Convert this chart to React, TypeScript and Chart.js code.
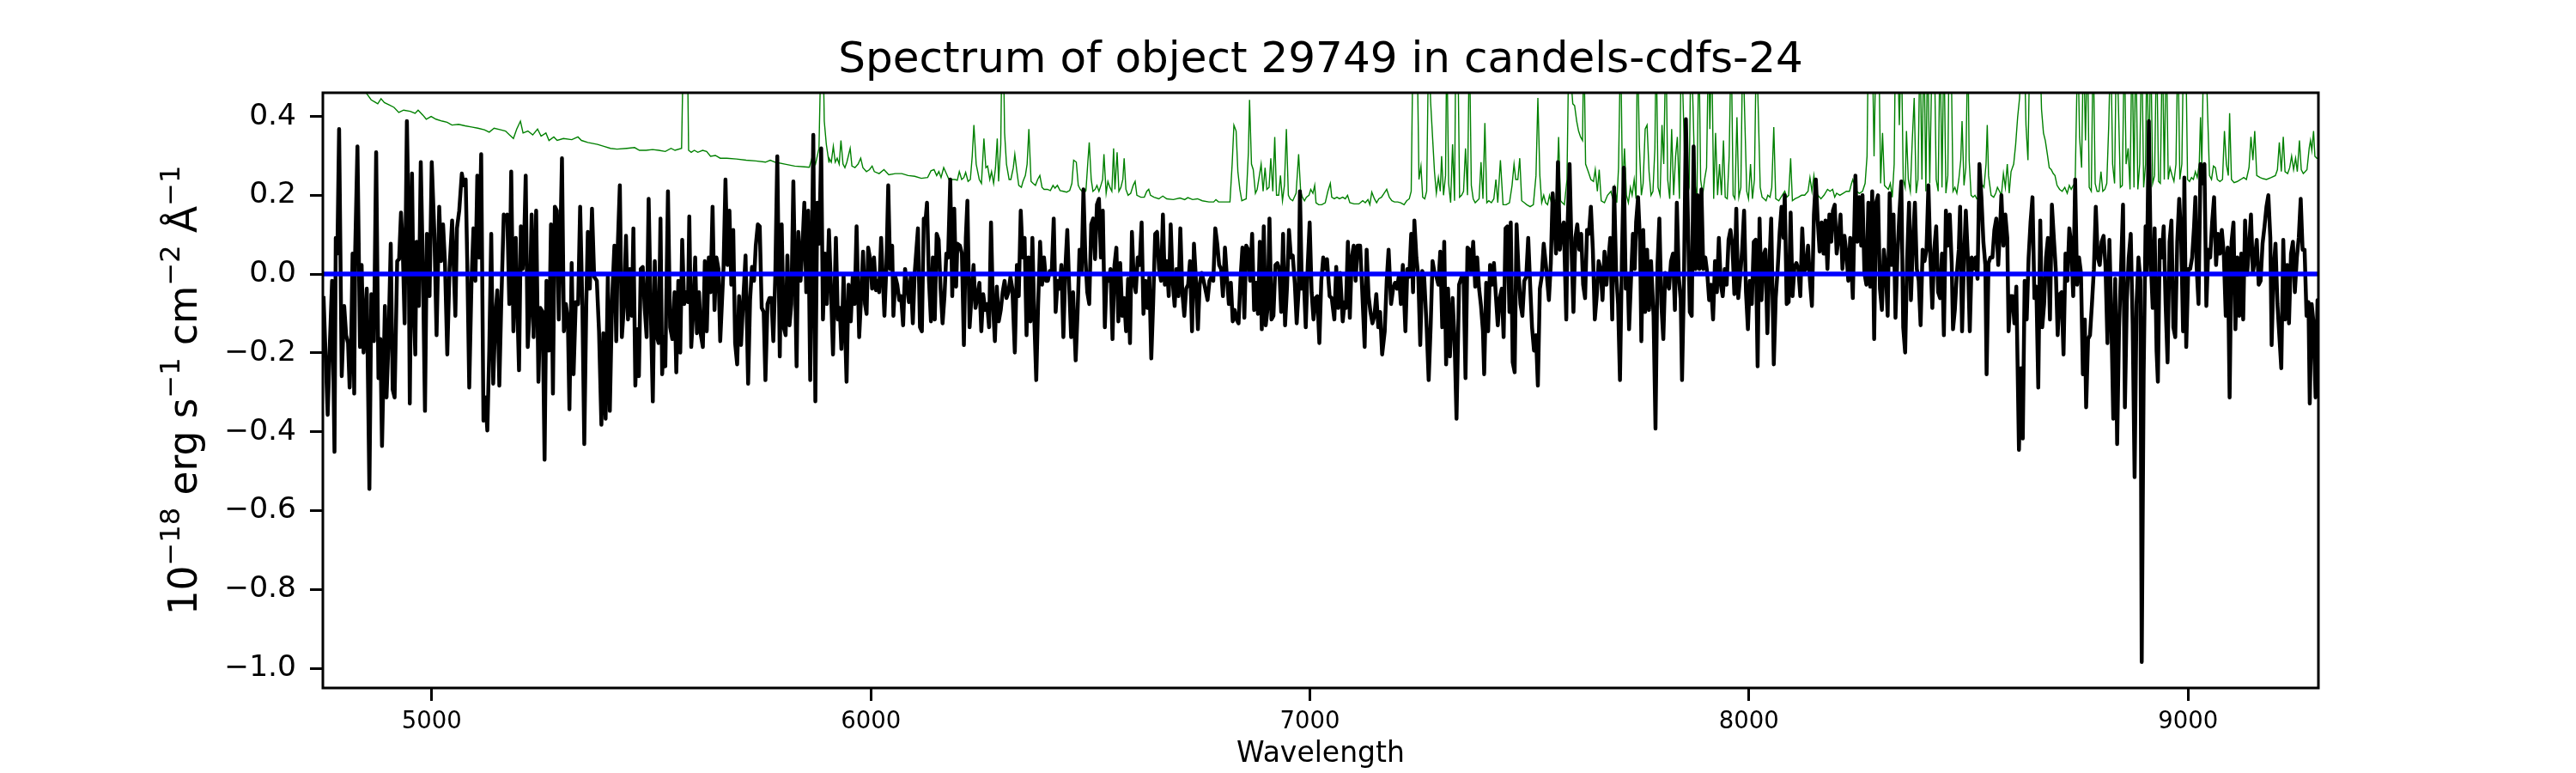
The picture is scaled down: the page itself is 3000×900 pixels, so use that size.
import { useEffect, useRef } from 'react';
import { Chart, registerables } from 'chart.js';

Chart.register(...registerables);

const TITLE = 'Spectrum of object 29749 in candels-cdfs-24';
const X_LABEL = 'Wavelength';
const Y_LABEL: [string, boolean][] = [
  ['10', false], ['\u221218', true], [' erg s', false], ['\u22121', true],
  [' cm', false], ['\u22122', true], [' \u00C5', false], ['\u22121', true],
];
const X_MIN = 4752;
const X_MAX = 9297;
const Y_MIN = -1.05;
const Y_MAX = 0.46;
const X_TICKS = [5000, 6000, 7000, 8000, 9000];
const Y_TICKS = [-1.0, -0.8, -0.6, -0.4, -0.2, 0.0, 0.2, 0.4];

// zero reference line
const ZERO_LINE: [number, number][] = [[4752, 0], [9297, 0]];

// science spectrum (wavelength, flux)
const SCI_A: [number, number][] = [
  [4753.5,-0.056],[4763,-0.357],[4768,-0.175],[4773,-0.017],[4778.5,-0.451],[4781.4,0.092],[4785,0.052],[4789,0.368],
  [4795,-0.259],[4800.6,-0.081],[4805,-0.155],[4809.4,-0.175],[4813,-0.288],[4816.8,-0.155],[4819.7,0.052],[4823.4,-0.303],
  [4825.6,0.057],[4830.8,0.324],[4836.6,-0.185],[4840.3,0.023],[4844.7,-0.199],[4852,-0.037],[4858,-0.545],[4862.4,-0.051],
  [4868.3,-0.170],[4873.4,0.309],[4878.6,-0.264],[4883,-0.165],[4886.7,-0.436],[4893.3,-0.081],[4897,-0.313],[4901.4,-0.175],
  [4906.6,0.077],[4911,-0.293],[4915.4,-0.313],[4921.3,0.033],[4925.7,0.038],[4930,0.156],[4933.8,0.072],[4938.2,-0.125],
  [4943.4,0.388],[4947,0.151],[4950,-0.328],[4955,0.255],[4958.8,-0.076],[4962.5,-0.204],[4965.4,0.082],[4970.6,-0.081],
  [4975,0.284],[4980,0.003],[4984.6,-0.347],[4989,0.102],[4995,-0.056],[5000,0.284],[5006,0.102],[5011,-0.155],
  [5017,0.171],[5021.4,0.033],[5025.8,0.126],[5030,0.033],[5035.4,-0.204],[5040.5,0.013],[5046.4,0.136],[5053.8,-0.106],
  [5057.4,0.116],[5062.6,0.161],[5068.5,0.255],[5073,0.225],[5077.3,0.240],[5081,0.023],[5085.4,-0.288],[5090.6,-0.017],
  [5095,0.116],[5099.4,-0.017],[5103.8,0.250],[5108.2,0.042],[5112.6,0.304],[5117.8,-0.372],[5122.2,-0.313],[5126.6,-0.397],
  [5131,-0.194],[5135.5,0.102],[5140,-0.278],[5145,-0.106],[5149.4,-0.041],[5153.9,-0.283],[5158.3,-0.076],[5164,0.151],
  [5168.6,0.141],[5172,0.151],[5176.7,-0.076],[5181,0.260],[5186,-0.145],[5191.4,0.092],[5195,-0.086],[5198.8,-0.244],
  [5203,0.121],[5207,0.013],[5210,0.062],[5214,0.250],[5218.6,-0.185],[5223,-0.096],[5227.5,0.151],[5232,-0.160],
  [5237.8,0.161],[5243,-0.273],[5247.3,-0.086],[5252.5,-0.096],[5257,-0.471],[5261.3,-0.017],[5267,-0.194],[5271.6,0.126],
  [5276,-0.303],[5280.4,0.171],[5285,0.161],[5289.3,-0.115],[5296.6,0.294],[5301,-0.145],[5305.5,-0.076],[5310,-0.115],
  [5313.6,-0.343],[5318.7,0.028],[5323,-0.254],[5328,-0.071],[5333.4,-0.076],[5338,0.171],[5343,-0.076],[5347.4,-0.431],
  [5352,-0.076],[5355.5,0.107],[5360,-0.037],[5365,0.166],[5370,-0.007],[5376,-0.017],[5381,-0.145],[5386.4,-0.382],
  [5390.8,-0.150],[5396,-0.367],[5401,-0.007],[5405.6,-0.347],[5410.7,-0.066],[5416,0.072],[5420.3,-0.170],[5424,0.082],
  [5428.4,0.225],[5433,-0.160],[5438,-0.076],[5442.4,0.097],[5447,-0.115],[5451,0.013],[5455.6,-0.106],[5459.3,0.116],
  [5463.7,-0.283],[5468,-0.140],[5471.8,-0.259],[5476,0.013],[5480.6,0.018],[5485,-0.086],[5489.5,-0.160],[5494,0.191],
  [5499,-0.096],[5503.5,-0.323],[5508,0.033],[5512,-0.155],[5516.7,-0.175],[5521,0.141],[5524.8,-0.254],[5528.5,-0.160],
  [5532,-0.234],[5538,0.210],[5543,-0.135],[5548,-0.165],[5553,-0.046],[5557,-0.249],[5561.6,-0.017],[5566,-0.199],
  [5570.4,0.087],[5575,-0.076],[5579,-0.046],[5583.7,-0.071],[5586.6,0.146],[5591,-0.185],[5595.5,-0.096],[5600,0.042],
  [5604,-0.150],[5608.7,-0.046],[5613,-0.155],[5617.5,-0.185],[5622,0.033],[5626.4,-0.145],[5631,0.042],[5635,-0.046],
  [5639.6,0.171],[5644,-0.091],[5648.4,0.042],[5653,0.013],[5657,-0.170],[5664.6,0.018],[5669,0.240],[5673.5,0.023],
  [5678,0.161],[5682.3,-0.027],[5686.7,0.112],[5691,-0.175],[5695.6,-0.229],[5700,-0.056],[5704.4,-0.180],[5709,-0.076],
  [5714.7,0.047],[5720.6,-0.278],[5725,-0.066],[5729.4,0.018],[5734,-0.017],[5738,0.072],[5742.7,0.126],[5747,0.121],
  [5751.5,-0.086],[5756,-0.096],[5760,-0.269],[5764.7,-0.076],[5769,-0.061],[5773.6,-0.061],[5778,-0.170],[5782.4,-0.007],
  [5787,0.299],[5792.7,-0.209],[5797,0.126],[5801.5,-0.135],[5806,-0.155],[5810,0.047],[5814.8,-0.130],[5819,-0.076],
  [5823.6,0.235],[5831,-0.234],[5835,0.107],[5840,-0.017],[5844,0.062],[5848.6,0.181],[5853,-0.046],[5857.5,0.161],
  [5862,-0.269],[5866,0.072],[5869,0.353],[5873.7,-0.323],[5878,0.181],[5882.5,0.077],[5887,0.319],[5891,-0.115],
  [5895.7,0.052],[5900,-0.076],[5904.6,0.112],
];

const SCI_B: [number, number][] = [
  [5908.7,-0.017],[5913.9,-0.204],[5920.5,0.092],[5925,-0.115],[5929.3,-0.086],[5933,-0.190],[5938,-0.002],[5944.8,-0.273],
  [5949.2,-0.027],[5954.4,-0.120],[5958.8,-0.007],[5963.2,-0.076],[5967.6,0.121],[5973.5,-0.160],[5978,-0.056],[5982.3,0.057],
  [5986.7,-0.076],[5990.4,-0.101],[5994,0.067],[5998.5,0.038],[6003,-0.037],[6007.3,0.042],[6011.8,-0.041],[6016,-0.017],
  [6019,-0.046],[6023.5,0.092],[6031,-0.106],[6035.3,0.013],[6039.7,0.225],[6044,0.013],[6048.6,0.072],[6051.5,-0.106],
  [6056,-0.007],[6060.3,-0.027],[6064.8,-0.066],[6069,-0.056],[6073.6,-0.130],[6078,0.013],[6082.4,-0.027],[6086.8,-0.071],
  [6091,-0.007],[6095.7,-0.125],[6100,0.003],[6107.4,0.116],[6112,-0.135],[6116.3,-0.145],[6120.7,0.141],[6125,0.141],
  [6128,0.181],[6132.5,-0.017],[6137,-0.120],[6141.3,0.042],[6145.7,-0.115],[6150,0.102],[6154.5,0.087],[6159,-0.037],
  [6163.4,-0.125],[6167.8,-0.056],[6172,0.052],[6176,0.042],[6181,0.240],[6185.5,-0.056],[6190,0.166],[6194.3,-0.032],
  [6197.2,0.077],[6203,0.072],[6207.5,0.052],[6212,-0.180],[6216.4,0.092],[6220,0.186],[6225,-0.135],[6229.6,-0.051],
  [6234,0.023],[6238.4,-0.086],[6243,-0.056],[6247.3,-0.022],[6251.7,-0.145],[6256,-0.051],[6260.5,-0.091],[6265,-0.076],
  [6269.4,-0.135],[6273.8,0.131],[6278,-0.071],[6282.6,-0.170],[6287,-0.032],[6291.4,-0.120],[6296,-0.091],[6300.3,-0.046],
  [6304.7,-0.017],[6309,-0.061],[6313.5,-0.046],[6318,-0.007],[6322.4,-0.037],[6328,-0.199],[6332.7,0.023],[6337,-0.056],
  [6341.5,0.161],[6346,0.042],[6350.3,0.092],[6354.7,-0.155],[6359,0.042],[6363.6,-0.120],[6368,0.092],[6372.4,-0.115],
  [6376.8,-0.269],[6381,-0.081],[6385.6,0.082],[6390,-0.027],[6394.5,0.042],[6399,-0.017],[6403.3,-0.017],[6407.7,0.008],
  [6412,0.003],[6416.6,0.141],[6421,-0.096],[6425.4,-0.017],[6430,-0.037],[6434,0.023],[6438.6,-0.160],[6443,0.013],
  [6447.5,0.112],[6452,-0.037],[6456.3,-0.160],[6460.7,-0.046],[6466.6,-0.219],[6471,-0.096],[6475.4,0.062],[6480,0.003],
  [6484.3,0.215],[6488.7,0.042],[6493,-0.046],[6497.5,-0.076],[6502,0.126],[6506.4,0.141],[6510.8,0.038],[6515,0.176],
  [6519.6,0.191],[6524,0.042],[6528.4,0.161],[6533,-0.135],[6537,-0.007],[6541.7,-0.017],[6546,0.013],[6550.5,-0.165],
  [6555,0.023],[6559.3,0.067],[6563.8,-0.120],[6568,0.028],[6572.6,-0.106],[6577,-0.061],[6581.4,-0.145],[6586,-0.012],
  [6590.3,-0.175],[6594.7,0.107],[6599,-0.017],[6603.5,-0.046],[6608,0.042],[6612.3,0.023],[6616.8,0.131],[6621,-0.101],
  [6625.6,-0.017],[6630,-0.086],[6634.4,-0.007],[6638.8,-0.214],[6643,-0.076],[6647.7,0.102],[6652,0.107],[6656.5,0.013],
  [6661,-0.017],[6665.3,0.151],[6669.7,-0.027],[6674,0.033],[6678.6,-0.056],[6683,0.126],[6687.4,-0.017],[6692,-0.081],
  [6696,0.013],[6700.7,-0.056],[6705,0.116],[6709.5,-0.046],[6714,-0.106],[6718.3,-0.037],[6722.7,-0.027],[6727,0.033],
  [6731.6,-0.145],[6736,0.077],[6740.4,-0.012],[6745,-0.140],[6749,-0.027],[6753.6,0.003],[6758,-0.017],[6762.5,-0.041],
  [6767,-0.066],[6771.3,-0.017],[6775.7,-0.007],[6780,-0.017],[6784.6,0.116],[6789,0.077],[6793.4,0.023],[6797.8,0.013],
  [6802,-0.056],[6806.6,0.067],[6811,-0.007],[6815.5,-0.076],[6820,-0.022],[6824.3,-0.120],[6828.7,-0.091],[6833,-0.115],
  [6837.6,-0.125],[6842,-0.012],[6846.4,0.067],[6850.8,-0.111],[6855,0.072],[6859.6,0.062],[6864,-0.017],[6868.5,0.102],
  [6873,-0.091],[6877.3,-0.022],[6881.7,-0.101],[6886,0.082],[6890.5,-0.140],[6895,0.121],[6899.4,-0.130],[6903.8,-0.086],
  [6908,0.141],[6912.6,-0.115],[6917,-0.106],[6921.5,0.023],[6926,0.028],[6930.3,0.013],[6934.7,-0.096],[6939,0.102],
  [6943.5,-0.130],[6948,-0.032],[6952.4,0.112],[6956.8,0.042],[6961,0.047],[6965.6,-0.022],[6970,-0.125],[6974.4,-0.041],
  [6977.4,0.210],[6981.8,-0.037],[6986,-0.007],[6990.6,-0.135],[6995,0.018],[6999.5,0.131],[7004,-0.046],[7008.3,-0.115],
  [7012.7,-0.061],[7017,-0.056],[7021.6,-0.175],[7026,-0.017],[7030.4,0.042],[7035,0.013],[7039,0.038],[7045,-0.056],
];

const SCI_C: [number, number][] = [
  [7049.8,-0.061],[7055.7,-0.115],[7060,0.018],[7064.5,-0.086],[7069,0.003],[7074.8,-0.120],[7079.2,-0.071],[7082,-0.086],
  [7086.6,0.082],[7091,-0.111],[7095.4,0.042],[7099.8,0.072],[7104.2,-0.017],[7108.7,0.072],[7114.5,0.072],[7119,-0.037],
  [7124.8,-0.185],[7129.3,0.062],[7133.7,-0.056],[7138,-0.096],[7142.5,-0.125],[7147,-0.106],[7151.3,-0.051],[7155.8,-0.135],
  [7160,-0.096],[7164.6,-0.204],[7170.5,-0.145],[7175,-0.017],[7179.3,0.062],[7185,-0.076],[7189.6,-0.037],[7194,-0.022],
  [7198.4,-0.037],[7203,-0.002],[7207.3,-0.076],[7211.7,0.023],[7217.6,-0.145],[7222,0.013],[7226.4,-0.007],[7230.8,0.102],
  [7235,-0.046],[7238,0.136],[7242.6,0.042],[7247,-0.007],[7251.4,-0.180],[7255.9,0.008],[7260.3,-0.007],[7266,-0.135],
  [7270.6,-0.269],[7275,-0.135],[7279.4,0.033],[7283.8,0.003],[7288.2,-0.007],[7292.7,-0.027],[7297,0.057],[7301.5,-0.135],
  [7306,0.082],[7310.3,-0.229],[7314.7,-0.037],[7319,-0.209],[7325,-0.061],[7329.5,-0.165],[7334,-0.367],[7339.8,-0.027],
  [7345.6,-0.007],[7350,-0.007],[7354.5,-0.264],[7359,0.067],[7363.3,0.062],[7367.7,0.003],[7372,0.082],[7376.6,-0.032],
  [7381,0.042],[7385.4,-0.037],[7389.8,-0.081],[7394.2,-0.145],[7397,-0.254],[7401.6,-0.022],[7406,-0.145],[7410.4,0.023],
  [7414.8,-0.027],[7419.2,0.028],[7423.7,-0.056],[7428,-0.130],[7432.5,-0.061],[7437,-0.037],[7441.3,-0.160],[7445.7,0.116],
  [7450,0.121],[7454.6,-0.096],[7457.5,0.131],[7462,-0.224],[7466.4,-0.249],[7470.8,0.126],[7475,0.013],[7479.6,-0.076],
  [7484,-0.106],[7488.4,-0.017],[7492.8,-0.007],[7497.3,0.092],[7501.7,-0.027],[7506,-0.135],[7510.5,-0.194],[7515,-0.155],
  [7519.3,-0.283],[7523.8,-0.037],[7528,-0.007],[7532.6,0.077],[7538.5,0.013],[7544.4,-0.066],[7548.8,0.028],[7553,0.205],
  [7557.6,0.121],[7560.6,0.052],[7565,0.284],[7569.4,0.062],[7573.8,0.116],[7578.2,0.131],[7584,-0.115],[7587,0.126],
  [7591.5,0.279],[7596,0.062],[7600.3,-0.096],[7604.7,0.092],[7609,0.126],[7613.6,0.062],[7618,0.102],[7622.4,-0.027],
  [7626.8,-0.061],[7631.2,0.112],[7635.6,0.102],[7640,0.171],[7644.5,0.062],[7649,-0.115],[7653.3,-0.056],[7657.7,0.033],
  [7662,0.013],[7666.5,-0.066],[7671,0.057],[7675.4,-0.027],[7679.8,0.033],[7684.2,0.092],[7688.6,-0.115],[7693,0.220],
  [7697.5,0.003],[7702,-0.076],[7706.3,-0.269],[7710.7,0.042],[7715,0.270],[7719.5,-0.037],[7724,-0.007],[7727,-0.140],
  [7731.3,-0.017],[7735.7,0.102],[7740,0.013],[7743,0.131],[7747.5,0.195],[7752,0.082],[7755,-0.170],[7759.3,0.112],
  [7763.7,-0.096],[7768,0.062],[7772.5,-0.091],[7777,0.033],[7782.8,-0.106],[7787.2,-0.392],[7791.7,0.023],[7796,0.141],
  [7800.5,-0.076],[7805,-0.165],[7809.3,0.003],[7813.7,-0.017],[7818,-0.037],[7822.6,0.033],[7827,0.052],[7831.4,-0.091],
  [7835.8,0.181],[7840.2,-0.007],[7844.7,-0.066],[7847.6,-0.269],[7852,-0.017],[7856.4,0.393],[7860.8,0.151],[7865.3,-0.096],
  [7869.7,-0.106],[7874,0.324],[7878.5,0.013],[7883,0.200],[7887.3,0.013],[7891.8,0.215],[7896,0.013],[7900.6,0.042],
  [7905,0.003],[7909.4,-0.066],[7913.8,-0.027],[7918.3,-0.115],[7922.7,0.033],[7927,-0.046],[7931.5,0.092],[7936,-0.027],
  [7940.3,-0.056],[7944.8,0.013],[7949.2,-0.027],[7953.6,0.087],[7958,0.112],[7962.4,0.072],[7966.8,-0.051],[7971.2,0.166],
  [7975.7,-0.061],[7980,-0.007],[7984.5,0.062],[7989,0.161],[7993.3,-0.046],[7997.7,-0.140],[8002,-0.017],[8006.6,-0.076],
  [8011,0.082],[8015.4,0.087],[8019.8,-0.234],[8024.2,0.141],[8028.7,-0.066],[8033,0.047],[8037.5,0.062],[8042,-0.150],
  [8046.3,0.018],[8050.7,0.141],[8056.6,-0.229],[8061,-0.061],[8065.5,0.013],[8070,0.107],[8074.3,0.171],[8078.7,0.092],
  [8081.6,0.200],[8086,-0.076],[8090.5,-0.071],[8095,0.156],[8099.3,-0.056],[8103.7,0.018],[8108,0.028],[8112.6,0.013],
  [8117,-0.056],[8121.4,0.116],[8125.8,0.008],[8130.2,0.013],[8134.6,0.072],[8139,-0.017],[8143.5,-0.081],[8148,0.151],
  [8152.3,0.240],[8156.7,0.136],[8161,0.057],[8165.6,0.131],[8170,0.052],[8174.4,0.136],[8178.8,0.013],[8183.2,0.151],
  [8187.6,0.082],[8191.3,0.161],
];

const SCI_D: [number, number][] = [
  [8195.4,0.176],[8199.8,0.052],[8204.2,0.092],[8208.6,0.151],[8213,0.013],[8217.5,0.097],[8222,0.052],[8226.3,-0.017],
  [8230.7,0.092],[8236.6,-0.061],[8242.5,0.250],[8247,0.082],[8251.3,0.195],[8255.7,0.072],[8258.7,0.200],[8263,0.003],
  [8267.5,-0.027],[8272,0.181],[8276.3,-0.032],[8280.8,0.210],[8285.2,-0.165],[8289.6,0.181],[8294,0.200],[8298.4,-0.037],
  [8302.8,-0.091],[8307.3,0.062],[8311.7,0.013],[8316,-0.106],[8320.5,0.205],[8325,0.023],[8329.3,0.151],[8333.8,-0.111],
  [8338,0.042],[8342.6,0.151],[8347,0.235],[8351.4,-0.135],[8355.8,-0.199],[8360.2,0.033],[8364.7,0.181],[8369,-0.066],
  [8373.5,0.082],[8378,0.181],[8382.3,0.013],[8386.7,-0.017],[8391,-0.130],[8395.6,0.062],[8400,0.033],[8404.4,0.062],
  [8408.8,0.225],[8413.2,0.042],[8417.7,-0.086],[8422,0.062],[8426.5,0.121],[8431,-0.046],[8435.3,-0.061],[8439.7,0.052],
  [8444,-0.155],[8448.6,0.161],[8453,0.072],[8457.4,0.151],[8461.8,0.028],[8464.8,-0.140],[8469,-0.091],[8473.6,0.003],
  [8478,0.062],[8481,0.171],[8485.4,-0.145],[8489.8,0.038],[8494,0.161],[8498.6,0.042],[8503,-0.145],[8507.4,0.042],
  [8511.9,0.013],[8516.3,0.042],[8520.7,-0.012],[8525,0.279],[8529.5,0.195],[8534,0.082],[8538.4,0.023],[8541.3,-0.254],
  [8545.7,0.028],[8550,0.042],[8554.6,0.042],[8559,0.112],[8563.4,0.141],[8567.8,0.023],[8572.2,0.121],[8575,0.200],
  [8579.6,0.072],[8584,0.151],[8588.4,0.092],[8591.4,-0.145],[8595.8,-0.056],[8600.2,-0.056],[8604.6,-0.125],[8609,-0.032],
  [8615,-0.446],[8619.3,-0.239],[8623.7,-0.417],[8628,-0.017],[8632.6,-0.115],[8637,0.042],[8641.4,0.131],[8645.8,0.195],
  [8650.2,-0.061],[8654.6,-0.032],[8659,-0.288],[8663.5,0.136],[8668,-0.135],[8672.3,-0.076],[8676.7,0.042],[8681,0.092],
  [8685.6,-0.115],[8690,0.176],[8694.4,0.092],[8698.8,0.013],[8703.2,-0.155],[8707.6,-0.051],[8712,-0.046],[8716.5,-0.204],
  [8721,0.052],[8725.3,-0.017],[8729.7,0.116],[8734,0.077],[8738.6,-0.056],[8743,0.240],[8747.4,-0.027],[8751.8,0.042],
  [8756.2,0.003],[8760.6,-0.254],[8765,-0.115],[8768,-0.338],[8772.4,-0.165],[8776.8,-0.155],[8781.2,-0.076],[8785.7,0.013],
  [8790,0.171],[8794.5,0.042],[8799,0.023],[8803.3,0.082],[8807.7,0.097],[8812,0.023],[8816.6,-0.175],[8821,0.087],
  [8825.4,-0.115],[8829.8,-0.367],[8834.2,-0.012],[8838.6,-0.431],[8843,-0.135],[8847.5,0.013],[8852,0.176],[8856.3,-0.338],
  [8860.7,-0.066],[8865,0.042],[8869.6,0.102],[8874,-0.130],[8878.4,-0.515],[8882.8,-0.076],[8887.2,0.042],[8891.6,-0.017],
  [8894.6,-0.984],[8899,-0.254],[8903.4,0.121],[8906.4,-0.002],[8910.8,0.388],[8915.2,0.033],[8919.6,-0.086],[8924,0.116],
  [8928.4,-0.194],[8931.4,-0.273],[8935.8,0.087],[8940.2,0.042],[8944.6,0.121],[8949,-0.076],[8953.5,-0.224],[8958,0.082],
  [8962.3,0.136],[8966.7,-0.135],[8971,-0.160],[8975.5,0.082],[8980,0.191],[8984.4,0.092],[8988.8,-0.145],[8991.7,0.245],
  [8996,-0.185],[9000.6,0.013],[9005,0.013],[9009.4,0.042],[9013.8,0.121],[9016.8,0.195],[9019.7,0.018],[9024,-0.076],
  [9028.5,0.279],[9033,0.230],[9037.4,0.279],[9041.8,-0.081],[9046.2,0.062],[9050.6,0.042],[9055,0.131],[9059.4,0.195],
  [9063.9,0.023],[9068.3,0.102],[9072.7,0.052],[9077,0.112],[9081.5,0.052],[9086,-0.106],[9090.4,0.067],[9094.8,-0.313],
  [9099.2,0.082],[9103.6,0.131],[9108,-0.140],[9112.4,0.042],[9116.9,-0.106],[9121.3,0.052],[9125.7,-0.115],[9130,0.136],
  [9134.5,-0.002],[9139,0.067],[9143.4,0.151],[9147.8,0.003],[9152.2,0.038],[9156.6,0.087],[9161,-0.027],[9165.4,-0.017],
  [9169.8,0.077],[9174.3,0.121],[9178.7,0.171],[9183,0.200],[9187.5,0.092],[9190.5,-0.180],[9195,0.013],[9199.3,0.077],
  [9203.7,-0.076],[9208,-0.155],[9212.5,-0.239],[9217,0.087],[9221.4,-0.115],[9225.8,0.023],[9230,-0.125],[9234.6,0.052],
  [9239,0.082],[9243.4,-0.046],[9247.9,0.042],[9252.3,0.092],[9256.7,0.191],[9261,0.062],[9265.5,0.062],[9270,-0.106],
  [9274.4,-0.071],[9277.3,-0.328],[9281.7,-0.076],[9286,-0.125],[9290.6,-0.313],[9295,-0.066],[9297.2,-0.076],
];

// error spectrum (wavelength, flux); peaks above the top are clipped by the axes
const ERR_A: [number, number][] = [
  [4752,0.52],[4800,0.49],[4851,0.459],[4862,0.442],[4870,0.437],[4877,0.432],[4884.5,0.445],[4892,0.435],
  [4903,0.429],[4914,0.423],[4925,0.410],[4936,0.416],[4951,0.413],[4962,0.408],[4969,0.416],[4980,0.403],
  [4987.5,0.393],[4998.6,0.400],[5009.6,0.393],[5024,0.388],[5035,0.385],[5046,0.378],[5061,0.380],[5076,0.376],
  [5090.6,0.373],[5105,0.370],[5120,0.366],[5131,0.360],[5142,0.370],[5157,0.366],[5168,0.363],[5177,0.353],
  [5186,0.344],[5193.6,0.368],[5202,0.388],[5208,0.358],[5219,0.363],[5230,0.353],[5241,0.368],[5249,0.350],
  [5260,0.358],[5267,0.339],[5278,0.348],[5285.6,0.339],[5300,0.344],[5319,0.341],[5333,0.348],[5341,0.339],
  [5355.5,0.334],[5377.6,0.329],[5392,0.324],[5407,0.319],[5422,0.317],[5444,0.319],[5462,0.321],[5473,0.314],
  [5488,0.314],[5503,0.316],[5517,0.314],[5532,0.311],[5545,0.319],[5554,0.314],[5569,0.319],[5573.4,0.6],
  [5578,0.7],[5582,0.6],[5585,0.314],[5591,0.309],[5598,0.314],[5606,0.309],[5617,0.314],[5626,0.311],
  [5635,0.299],[5646,0.301],[5657,0.294],[5672,0.294],[5694,0.292],[5716,0.289],[5738,0.287],[5760,0.284],
  [5771,0.289],[5782,0.284],[5804.5,0.279],[5826.6,0.274],[5848.6,0.272],[5860,0.271],[5867,0.299],[5874,0.279],
  [5882,0.319],[5887,0.6],[5891,0.6],[5894,0.388],[5898.7,0.329],[5904.6,0.284],
];

const ERR_B: [number, number][] = [
  [5905,0.294],[5910,0.284],[5914.6,0.324],[5919,0.284],[5923.4,0.294],[5928,0.279],[5932,0.339],[5936.7,0.279],
  [5941,0.270],[5945.5,0.284],[5953,0.319],[5957,0.274],[5964,0.270],[5971,0.279],[5977,0.294],[5982,0.270],
  [5990,0.260],[5997,0.265],[6003,0.274],[6008,0.260],[6019,0.255],[6030,0.265],[6041,0.252],[6056,0.255],
  [6070.6,0.255],[6085,0.250],[6100,0.248],[6115,0.243],[6129.5,0.245],[6137,0.262],[6144,0.265],[6150,0.250],
  [6155,0.260],[6160,0.245],[6166,0.270],[6172,0.255],[6178,0.240],[6192,0.240],[6197,0.238],[6201.6,0.260],
  [6207,0.240],[6212,0.245],[6216,0.258],[6221.5,0.235],[6226.7,0.240],[6231,0.299],[6234.8,0.378],[6240,0.279],
  [6247,0.240],[6252,0.230],[6257.6,0.344],[6262,0.270],[6266,0.274],[6271,0.240],[6275,0.260],[6279.7,0.230],
  [6284,0.270],[6288,0.344],[6291,0.235],[6296,0.329],[6298.8,0.6],[6301.7,0.6],[6304.7,0.358],[6309,0.279],
  [6315,0.240],[6319,0.240],[6324.6,0.270],[6328,0.304],[6332.7,0.260],[6337,0.225],[6343,0.220],[6346.6,0.235],
  [6352,0.250],[6356,0.279],[6360,0.368],[6365,0.235],[6369.5,0.230],[6375,0.225],[6380,0.240],[6385,0.250],
  [6390,0.220],[6394.5,0.215],[6402,0.215],[6409,0.212],[6415,0.225],[6419.5,0.218],[6425,0.225],[6431,0.212],
  [6438.6,0.210],[6446,0.208],[6453,0.212],[6458,0.230],[6462,0.289],[6468,0.284],[6472.5,0.225],[6477,0.215],
  [6481,0.210],[6486,0.205],[6490,0.212],[6494.6,0.289],[6497.5,0.334],[6502,0.240],[6506,0.210],[6511,0.215],
  [6515,0.225],[6519.6,0.210],[6524,0.225],[6528,0.240],[6531,0.304],[6536,0.205],[6540,0.235],[6544.6,0.220],
  [6549,0.210],[6553,0.319],[6556,0.215],[6561,0.309],[6565,0.210],[6569.6,0.220],[6574,0.240],[6577,0.294],
  [6581,0.215],[6586,0.200],[6592,0.205],[6597.6,0.225],[6602,0.235],[6606,0.200],[6615,0.195],[6623,0.195],
  [6628.5,0.210],[6633,0.215],[6637,0.200],[6645,0.195],[6656,0.191],[6665,0.198],[6674,0.191],[6689,0.189],
  [6704,0.193],[6715,0.189],[6722,0.194],[6733,0.189],[6744,0.191],[6755,0.186],[6770,0.183],[6781,0.183],
  [6786,0.189],[6792,0.183],[6807,0.183],[6818,0.183],[6823,0.279],[6827,0.378],[6832,0.363],[6836,0.260],
  [6840.5,0.215],[6845,0.186],[6851,0.189],[6855,0.191],[6860,0.309],[6862.6,0.442],[6867,0.279],[6871,0.265],
  [6876,0.205],[6880,0.215],[6885,0.250],[6889,0.279],[6893.5,0.210],[6898,0.270],[6902,0.215],[6907,0.220],
  [6911,0.294],[6915.6,0.210],[6920,0.348],[6924,0.200],[6929,0.200],[6933,0.250],[6937.6,0.186],[6942,0.225],
  [6946.5,0.368],[6951,0.200],[6955,0.191],[6961,0.186],[6968.6,0.205],[6974.4,0.304],[6979,0.210],[6983,0.195],
  [6987.7,0.186],[6992,0.195],[6998,0.200],[7002,0.215],[7007,0.205],[7011,0.225],[7014,0.181],[7020,0.176],
  [7027,0.176],[7035,0.181],[7041,0.210],[7046.6,0.230],
];

const ERR_C: [number, number][] = [
  [7049.8,0.195],[7055.7,0.191],[7061.6,0.195],[7067.4,0.191],[7074.8,0.195],[7080.7,0.191],[7085.8,0.200],[7091,0.181],
  [7100.6,0.178],[7111.6,0.178],[7120.4,0.186],[7126.3,0.181],[7132.2,0.189],[7136.6,0.176],[7141,0.208],[7147,0.191],
  [7152,0.181],[7157,0.191],[7163,0.195],[7169,0.205],[7175,0.215],[7181,0.195],[7186.7,0.186],[7192.6,0.183],
  [7200,0.183],[7207,0.181],[7214.6,0.176],[7220.5,0.186],[7226.4,0.191],[7230.8,0.210],[7235,0.6],[7239.7,0.6],
  [7244,0.6],[7248.5,0.240],[7253,0.274],[7257,0.195],[7261.7,0.191],[7266,0.210],[7270.6,0.6],[7275,0.437],
  [7279.4,0.348],[7283.8,0.260],[7288,0.205],[7292.7,0.245],[7297,0.210],[7300,0.299],[7304.4,0.200],[7309,0.250],
  [7311.8,0.6],[7316,0.230],[7320.6,0.181],[7325,0.329],[7329.5,0.186],[7332.4,0.6],[7336.8,0.6],[7341,0.195],
  [7345.6,0.200],[7350,0.210],[7354.5,0.319],[7359,0.200],[7363.3,0.6],[7367.7,0.225],[7372,0.191],[7376.6,0.181],
  [7381,0.186],[7385.4,0.191],[7389.8,0.284],[7394.2,0.191],[7398.6,0.383],[7403,0.181],[7407.5,0.186],[7413.4,0.181],
  [7419,0.191],[7423.7,0.240],[7428,0.181],[7434,0.289],[7440,0.176],[7447,0.176],[7454.6,0.181],[7460.5,0.225],
  [7465,0.279],[7469,0.240],[7473.7,0.240],[7478,0.294],[7482.5,0.186],[7488.4,0.181],[7494,0.176],[7501.7,0.171],
  [7509,0.176],[7515,0.250],[7519.3,0.447],[7523.8,0.250],[7528,0.181],[7532.6,0.200],[7537,0.181],[7541.4,0.176],
  [7545.8,0.200],[7550,0.181],[7556,0.181],[7562,0.191],[7566.5,0.348],[7571,0.186],[7575,0.181],[7579.7,0.176],
  [7585.6,0.240],[7590,0.6],[7594.4,0.5],[7598.8,0.432],[7603,0.427],[7607.7,0.388],[7612,0.363],[7616.5,0.348],
  [7621,0.339],[7623.9,0.6],[7628,0.279],[7634,0.260],[7640,0.240],[7646,0.235],[7650,0.265],[7654.8,0.210],
  [7659,0.265],[7663.6,0.186],[7671,0.181],[7678,0.200],[7685.7,0.210],[7690,0.191],[7694.5,0.220],[7699,0.181],
  [7703,0.270],[7707.8,0.6],[7712,0.210],[7716.6,0.319],[7721,0.200],[7725.4,0.181],[7730,0.220],[7734,0.200],
  [7738.7,0.240],[7743,0.191],[7746,0.6],[7750.4,0.329],[7755,0.200],[7759,0.230],[7763.7,0.368],[7768,0.378],
  [7772.5,0.260],[7777,0.200],[7781.4,0.210],[7785.8,0.319],[7788.7,0.6],[7793,0.220],[7797.6,0.200],[7802,0.378],
  [7806,0.279],[7810.8,0.6],[7815,0.240],[7819.6,0.191],[7824,0.368],[7828.5,0.200],[7833,0.299],[7837,0.348],
  [7841.7,0.191],[7846,0.6],[7850.5,0.418],[7855,0.230],[7859,0.195],[7863.8,0.220],[7868,0.6],[7872.6,0.427],
  [7877,0.230],[7881.5,0.191],[7886,0.6],[7890,0.240],[7894.7,0.200],[7899,0.240],[7903.5,0.270],[7908,0.6],
  [7911,0.368],[7915,0.6],[7919.7,0.191],[7924,0.358],[7928.6,0.200],[7933,0.279],[7937.4,0.200],[7942,0.339],
  [7946,0.195],[7950.6,0.191],[7955,0.299],[7959.5,0.6],[7964,0.200],[7968,0.191],[7972.7,0.398],[7977,0.195],
  [7981.6,0.220],[7986,0.6],[7990,0.418],[7995,0.210],[7999,0.191],[8003.6,0.279],[8008,0.191],[8012.5,0.240],
  [8017,0.6],[8021,0.427],[8025.7,0.220],[8030,0.195],[8034.5,0.191],[8039,0.186],[8043,0.200],[8048,0.195],
  [8052,0.220],[8056.6,0.373],[8061,0.191],[8068,0.186],[8075.8,0.200],[8081.6,0.210],[8086,0.195],[8090.5,0.200],
  [8095,0.294],[8099,0.186],[8105,0.191],[8112.6,0.195],[8120,0.200],[8127,0.200],[8134.6,0.210],[8139,0.245],
  [8143.5,0.210],[8148,0.250],[8152,0.210],[8157,0.200],[8164,0.191],[8171,0.200],[8179,0.215],[8184.7,0.210],
  [8190.6,0.215],
];

const ERR_D: [number, number][] = [
  [8195.4,0.195],[8199.8,0.205],[8207,0.200],[8214.5,0.205],[8222,0.210],[8229,0.210],[8233.7,0.230],[8236.6,0.240],
  [8241,0.225],[8245.4,0.210],[8251.3,0.205],[8258.7,0.210],[8264.6,0.230],[8269,0.299],[8272,0.6],[8276.3,0.6],
  [8280.8,0.6],[8285,0.299],[8289.6,0.6],[8295.5,0.6],[8300,0.230],[8304.3,0.358],[8308.7,0.225],[8313,0.220],
  [8317.6,0.215],[8322,0.230],[8326.4,0.195],[8330.8,0.279],[8333.8,0.6],[8338,0.6],[8342.6,0.378],[8347,0.6],
  [8351.4,0.240],[8355.8,0.220],[8358.8,0.363],[8363,0.240],[8367.6,0.210],[8372,0.339],[8376.4,0.447],[8380.9,0.205],
  [8385,0.240],[8389.7,0.6],[8394,0.240],[8398.5,0.6],[8403,0.210],[8407,0.6],[8411.8,0.230],[8417.7,0.6],
  [8422,0.6],[8426.5,0.240],[8431,0.210],[8435.3,0.6],[8439.7,0.220],[8444,0.6],[8448.6,0.205],[8453,0.250],
  [8456,0.6],[8460,0.6],[8464.8,0.210],[8469,0.220],[8473.6,0.205],[8478,0.240],[8482.4,0.289],[8485.4,0.388],
  [8489.8,0.225],[8494,0.270],[8498.6,0.6],[8501.6,0.289],[8506,0.200],[8510.4,0.195],[8514.8,0.200],[8519,0.191],
  [8525,0.195],[8529.5,0.230],[8535.4,0.220],[8540,0.279],[8542.8,0.378],[8545.7,0.250],[8551.6,0.200],[8557.5,0.195],
  [8562,0.205],[8566,0.220],[8570.7,0.210],[8575,0.200],[8579.6,0.255],[8584,0.220],[8588.4,0.279],[8592.8,0.205],
  [8597,0.260],[8603,0.279],[8607.5,0.329],[8612,0.398],[8616.4,0.447],[8620.8,0.6],[8626.7,0.6],[8631,0.378],
  [8635.5,0.289],[8640,0.6],[8644,0.8],[8648.8,0.8],[8653,0.8],[8657.6,0.7],[8662,0.6],[8666.4,0.418],
  [8670.8,0.358],[8675,0.339],[8679.7,0.304],[8684,0.270],[8688.5,0.265],[8693,0.255],[8697,0.250],[8701.8,0.225],
  [8707.6,0.215],[8713.5,0.210],[8719.4,0.220],[8725,0.205],[8729.7,0.225],[8734,0.215],[8738.6,0.225],[8743,0.230],
  [8749,0.6],[8753,0.348],[8757.7,0.270],[8762,0.6],[8766.5,0.339],[8771,0.6],[8775,0.220],[8779.8,0.210],
  [8784,0.6],[8788.6,0.230],[8793,0.210],[8797.4,0.210],[8801.8,0.260],[8806,0.210],[8810.7,0.215],[8815,0.230],
  [8819.5,0.378],[8824,0.6],[8828.3,0.279],[8832.8,0.230],[8837,0.6],[8841.6,0.427],[8846,0.220],[8850.4,0.225],
  [8855,0.6],[8859,0.279],[8863.7,0.319],[8868,0.215],[8872.5,0.6],[8877,0.220],[8881,0.6],[8885.8,0.215],
  [8890,0.279],[8894.6,0.6],[8899,0.220],[8903.4,0.279],[8906.4,0.6],[8910.8,0.240],[8915,0.6],[8919.6,0.230],
  [8924,0.250],[8928.4,0.6],[8932.9,0.235],[8937,0.230],[8941.7,0.6],[8946,0.240],[8950.5,0.6],[8955,0.240],
  [8959,0.270],[8963.8,0.250],[8968,0.235],[8972.6,0.279],[8977,0.6],[8981.4,0.240],[8986,0.279],[8990,0.6],
  [8994.7,0.6],[8999,0.240],[9003.5,0.235],[9008,0.245],[9012.3,0.240],[9016.8,0.260],[9021,0.245],[9025.6,0.279],
  [9028.5,0.398],[9031.5,0.279],[9036,0.6],[9040,0.6],[9044.7,0.408],[9049,0.250],[9053.6,0.240],[9058,0.274],
  [9062.4,0.270],[9066.8,0.240],[9072.7,0.235],[9078.6,0.240],[9083,0.363],[9087.4,0.279],[9091.8,0.250],[9094.8,0.408],
  [9099,0.240],[9105,0.232],[9112.4,0.235],[9120,0.240],[9127,0.245],[9133,0.240],[9139,0.270],[9143.4,0.348],
  [9147.8,0.289],[9152,0.363],[9156.6,0.250],[9164,0.245],[9171,0.242],[9178.7,0.240],[9189.7,0.245],[9199,0.250],
  [9203.7,0.265],[9208,0.334],[9212.5,0.260],[9217,0.348],[9221,0.260],[9227,0.255],[9231.7,0.270],[9236,0.299],
  [9240.5,0.265],[9245,0.294],[9249,0.260],[9253.8,0.339],[9258,0.265],[9262.6,0.255],[9267,0.260],[9271,0.265],
  [9276,0.319],[9279,0.339],[9282,0.314],[9286,0.363],[9289,0.299],[9293.5,0.294],[9297,0.294],
];

const SCI = [...SCI_A, ...SCI_B, ...SCI_C, ...SCI_D];
const ERR = [...ERR_A, ...ERR_B, ...ERR_C, ...ERR_D];

const FONT = '"DejaVu Sans", "Liberation Sans", sans-serif';

const textPlugin = {
  id: 'mplTexts',
  afterDraw(chart: any) {
    const { ctx, chartArea: a } = chart;
    ctx.save();
    ctx.strokeStyle = '#000';
    ctx.lineWidth = 3;
    ctx.strokeRect(a.left, a.top, a.right - a.left, a.bottom - a.top);

    ctx.fillStyle = '#000';
    ctx.textAlign = 'center';
    ctx.textBaseline = 'alphabetic';
    const cx = (a.left + a.right) / 2;
    ctx.font = `50px ${FONT}`;
    ctx.fillText(TITLE, cx, a.top - 24);
    ctx.font = `33px ${FONT}`;
    ctx.fillText(X_LABEL, cx, a.bottom + 86);

    // rotated y label with superscripts
    const mainSize = 45.5;
    const supSize = 32;
    const widths = Y_LABEL.map(([t, sup]) => {
      ctx.font = `${sup ? supSize : mainSize}px ${FONT}`;
      return ctx.measureText(t).width;
    });
    const total = widths.reduce((s, w) => s + w, 0);
    ctx.translate(a.left - 147, (a.top + a.bottom) / 2);
    ctx.rotate(-Math.PI / 2);
    ctx.textAlign = 'left';
    let x = -total / 2;
    Y_LABEL.forEach(([t, sup], i) => {
      ctx.font = `${sup ? supSize : mainSize}px ${FONT}`;
      ctx.fillText(t, x, sup ? -20 : 0);
      x += widths[i];
    });
    ctx.restore();
  },
};

const fmtY = (v: number | string) => {
  const n = Number(v);
  const s = Math.abs(n).toFixed(1);
  return n < -1e-9 ? '\u2212' + s : s;
};

export default function App() {
  const ref = useRef<HTMLCanvasElement | null>(null);
  useEffect(() => {
    if (!ref.current) return;
    const chart = new Chart(ref.current, {
      type: 'line',
      data: {
        datasets: [
          {
            label: 'zero',
            data: ZERO_LINE.map(([x, y]) => ({ x, y })),
            borderColor: '#0000ff',
            borderWidth: 5.5,
            pointRadius: 0,
            order: 0,
            clip: 0,
          },
          {
            label: 'flux',
            data: SCI.map(([x, y]) => ({ x, y })),
            borderColor: '#000000',
            borderWidth: 4.5,
            pointRadius: 0,
            borderJoinStyle: 'round',
            order: 1,
            clip: 0,
          },
          {
            label: 'error',
            data: ERR.map(([x, y]) => ({ x, y })),
            borderColor: '#008000',
            borderWidth: 1.4,
            pointRadius: 0,
            order: 2,
            clip: 0,
          },
        ] as any,
      },
      options: {
        animation: false,
        responsive: false,
        devicePixelRatio: 1,
        events: [],
        layout: { padding: { left: 256, right: 300, top: 108, bottom: 39 } },
        plugins: {
          legend: { display: false },
          title: { display: false },
          tooltip: { enabled: false },
        },
        scales: {
          x: {
            type: 'linear',
            min: X_MIN,
            max: X_MAX,
            afterFit: (s: any) => { s.height = 60; },
            afterBuildTicks: (s: any) => { s.ticks = X_TICKS.map((v) => ({ value: v })); },
            grid: { drawOnChartArea: false, drawTicks: true, tickLength: 15, tickWidth: 3, tickColor: '#000' },
            border: { display: false },
            ticks: {
              color: '#000',
              font: { family: FONT, size: 27.5 },
              padding: 8,
              maxRotation: 0,
              autoSkip: false,
              callback: (v: any) => String(v),
            },
          },
          y: {
            type: 'linear',
            min: Y_MIN,
            max: Y_MAX,
            afterFit: (s: any) => { s.width = 120; },
            afterBuildTicks: (s: any) => { s.ticks = Y_TICKS.map((v) => ({ value: v })); },
            grid: { drawOnChartArea: false, drawTicks: true, tickLength: 15, tickWidth: 3, tickColor: '#000' },
            border: { display: false },
            ticks: {
              color: '#000',
              font: { family: FONT, size: 34.5 },
              padding: 16,
              autoSkip: false,
              callback: fmtY,
            },
          },
        },
      },
      plugins: [textPlugin],
    } as any);
    return () => chart.destroy();
  }, []);
  return (
    <div style={{ position: 'absolute', left: 0, top: 0, width: 3000, height: 900, background: '#fff' }}>
      <canvas ref={ref} width={3000} height={900} style={{ display: 'block', width: 3000, height: 900 }} />
    </div>
  );
}
